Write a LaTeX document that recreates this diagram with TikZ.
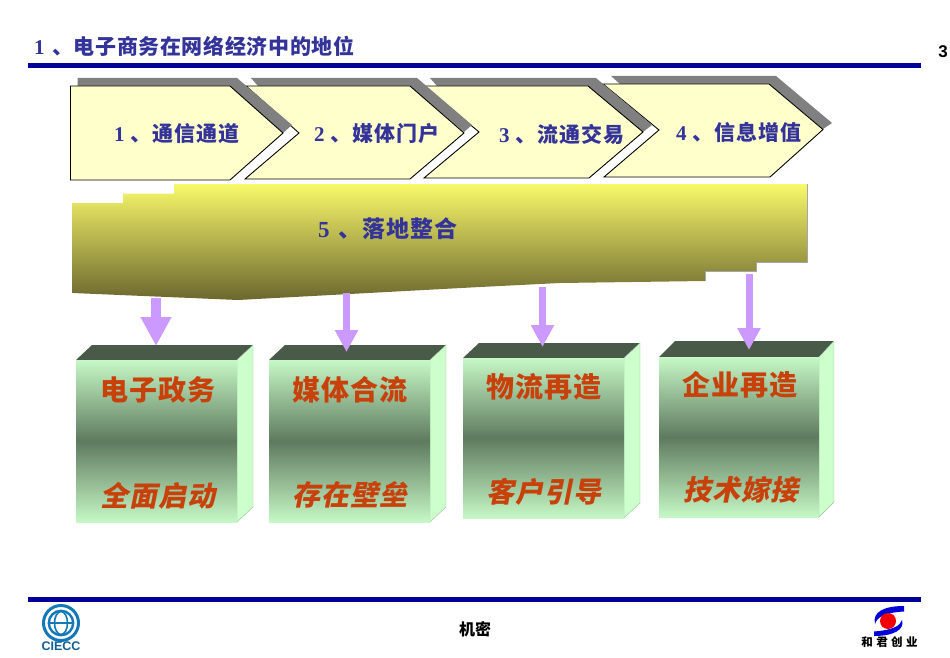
\documentclass[tikz,border=0pt]{standalone}
\usepackage{fontspec}
\usetikzlibrary{arrows.meta}
\setmainfont{Liberation Serif}
\newfontfamily\cjk{Noto Sans CJK SC}
\newfontfamily\cjktitle[LetterSpace=3]{Noto Sans CJK SC}
\newfontfamily\cjklabel[LetterSpace=5]{Noto Sans CJK SC}
\newfontfamily\cjkboxa[LetterSpace=3.5]{Noto Sans CJK SC}
\newfontfamily\cjkboxb[LetterSpace=3.5,FakeSlant=0.2]{Noto Sans CJK SC}
\newfontfamily\cjklogo[LetterSpace=30]{Noto Sans CJK SC}
\newfontfamily\pagenum{Liberation Sans}
\definecolor{navy}{HTML}{333399}
\definecolor{rulecol}{HTML}{000099}
\definecolor{facey}{HTML}{FFFFCC}
\definecolor{shade}{HTML}{808080}
\definecolor{lilac}{HTML}{CC99FF}
\definecolor{boxlight}{HTML}{C6F8C6}
\definecolor{boxsidecol}{HTML}{CCFFCC}
\definecolor{boxmid}{HTML}{5F7A5F}
\definecolor{boxtop}{HTML}{4A5A48}
\definecolor{boxtxt}{HTML}{C8400A}
\definecolor{logoblue}{HTML}{1478B8}
\definecolor{bandtop}{HTML}{F9F96A}
\definecolor{bandbot}{HTML}{6B672F}
\tikzset{
  x=1pt,y=-1pt,
  chev/.style={draw=black,line width=0.9pt,fill=facey,line join=miter},
  chevshadow/.style={fill=shade,draw=none},
  rulebar/.style={fill=rulecol,draw=none},
  band/.style={top color=bandtop,bottom color=bandbot,draw=none},
  boxfront/.style={top color=boxlight,bottom color=boxlight,middle color=boxmid,draw=none},
  boxside/.style={fill=boxsidecol,draw=boxsidecol!75!black,line width=0.4pt},
  boxlid/.style={fill=boxtop,draw=none},
  downarrow/.style={draw=lilac,-{Triangle[length=#1,width=#1]}},
  lab/.style={text=navy,font=\bfseries\fontsize{21}{24}\selectfont,inner sep=0pt,anchor=west},
  boxhead/.style={text=boxtxt,font=\bfseries\fontsize{28}{32}\selectfont\cjkboxa,inner sep=0pt},
  boxfoot/.style={text=boxtxt,font=\bfseries\fontsize{28}{32}\selectfont\cjkboxb,inner sep=0pt},
}
\begin{document}
\begin{tikzpicture}
\useasboundingbox (0,0) rectangle (950,658);
% rules
\fill[rulebar] (28,63) rectangle (921,68.5);
\fill[rulebar] (28,596.5) rectangle (921,602);
\node[lab] (title) at (34,46) {1\hspace{7.5pt}{\cjktitle 、电子商务在网络经济中的地位}};
\node[inner sep=0pt,font=\bfseries\fontsize{17}{20}\selectfont\pagenum] (page) at (943,52) {3};
% chevrons, back to front
\fill[chevshadow] (611,76) -- (776,76) -- (832,123) -- (823,129) -- (769,84) -- (620,84) -- cycle;
\draw[chev] (603,84) -- (769,84) -- (823,129.5) -- (770,177) -- (604,177) -- (659,130) -- cycle;
\fill[chevshadow] (430,78) -- (596,78) -- (652,125) -- (643,132) -- (588,86) -- (437,86) -- cycle;
\draw[chev] (424,86) -- (588,86) -- (643,132) -- (589,178) -- (424,178) -- (479,132) -- cycle;
\fill[chevshadow] (251,78) -- (417,78) -- (472,125) -- (464,132) -- (410,86) -- (258,86) -- cycle;
\draw[chev] (246,86) -- (410,86) -- (464,133) -- (410,179) -- (245,179) -- (299,133) -- cycle;
\fill[chevshadow] (77.5,78) -- (237,78) -- (292,125) -- (283,133) -- (230,86) -- (77.5,86) -- cycle;
\draw[chev] (70.5,86) -- (230,86) -- (283,133) -- (230,180) -- (70.5,180) -- cycle;
\node[lab] (c1) at (114,134) {1\hspace{5.5pt}{\cjklabel 、通信通道}};
\node[lab] (c2) at (314,134) {2\hspace{5.5pt}{\cjklabel 、媒体门户}};
\node[lab] (c3) at (499,134) {3\hspace{5.5pt}{\cjklabel 、流通交易}};
\node[lab] (c4) at (676,132) {4\hspace{5.5pt}{\cjklabel 、信息增值}};
% band
\draw[band] (72.5,203) -- (123,203) -- (123,193.5) -- (174,193.5) -- (174,184) -- (807,184) -- (807,262) -- (756,262) -- (756,271.5) -- (705,271.5) -- (705,281) -- (560,283) -- (480,287) -- (238,300) -- (72.5,293) -- cycle;
\draw[shade!70!white,line width=0.6pt] (807,184) -- (807,262) -- (756,262) -- (756,271.5) -- (705,271.5) -- (705,281);
\node[lab,font=\bfseries\fontsize{23}{26}\selectfont] (c5) at (318,229) {5\hspace{8.5pt}{\cjklabel 、落地整合}};
% boxes
\foreach \n/\xa/\xb/\xc/\ya/\yb/\yc/\yd in {1/76/237/253/345/360/522/507, 2/269/430/446/345/360/522/507, 3/463/624/640/343/358/518/503, 4/659/819/834/341/357/517/502}{
  \fill[boxlid] (\xa,\yb) -- (\xa+16,\ya) -- (\xc,\ya) -- (\xb,\yb) -- cycle;
  \draw[boxside] (\xb,\yb) -- (\xc,\ya) -- (\xc,\yd) -- (\xb,\yc) -- cycle;
  \fill[boxfront] (\xa,\yb) rectangle (\xb,\yc);
}
\node[boxhead] (h1) at (158,390) {电子政务};
\node[boxfoot] (f1) at (158,496) {全面启动};
\node[boxhead] (h2) at (350,390) {媒体合流};
\node[boxfoot] (f2) at (350,495) {存在壁垒};
\node[boxhead] (h3) at (544,387) {物流再造};
\node[boxfoot] (f3) at (544,492) {客户引导};
\node[boxhead] (h4) at (740,385) {企业再造};
\node[boxfoot] (f4) at (741,490) {技术嫁接};
% arrows
\coordinate (a1s) at (156,298); \coordinate (a1e) at (156,346);
\coordinate (a2s) at (346.5,293); \coordinate (a2e) at (346.5,352);
\coordinate (a3s) at (542.5,287); \coordinate (a3e) at (542.5,347);
\coordinate (a4s) at (749,274); \coordinate (a4e) at (749,350);
\draw[downarrow=29pt,line width=10pt] (a1s) -- (a1e);
\draw[downarrow=22pt,line width=7pt] (a2s) -- (a2e);
\draw[downarrow=22pt,line width=7pt] (a3s) -- (a3e);
\draw[downarrow=22pt,line width=7pt] (a4s) -- (a4e);
% footer
\node[inner sep=0pt,font=\bfseries\fontsize{16}{18}\selectfont\cjk] (secret) at (475,629.5) {机密};
% CIECC logo
\coordinate (g) at (61,623);
\draw[logoblue,line width=3pt] (g) circle (17.5);
\draw[logoblue,line width=2.4pt] (g) circle (12.2);
\draw[logoblue,line width=1.6pt] (g) ellipse (6.5 and 11.5);
\draw[logoblue,line width=2pt] (49.5,623) -- (72.5,623);
\node[inner sep=0pt,text=logoblue!80!black,font=\bfseries\fontsize{12.5}{14}\selectfont\pagenum] (ciecc) at (61,646.5) {CIECC};
% right logo
\fill[blue!85!black] (904,606) .. controls (884,606) and (872,612) .. (875,624) .. controls (877,617) and (885,612.5) .. (904,611.5) -- cycle;
\fill[blue!85!black] (874,636) .. controls (893,636) and (905,630) .. (902,620) .. controls (900,626) and (893,630) .. (874,631.5) -- cycle;
\fill[red!95!black] (888,621) circle (8);
\node[inner sep=0pt,font=\bfseries\fontsize{11.5}{12}\selectfont\cjklogo] (hejun) at (889.5,642.5) {和君创业};
\end{tikzpicture}
\end{document}
